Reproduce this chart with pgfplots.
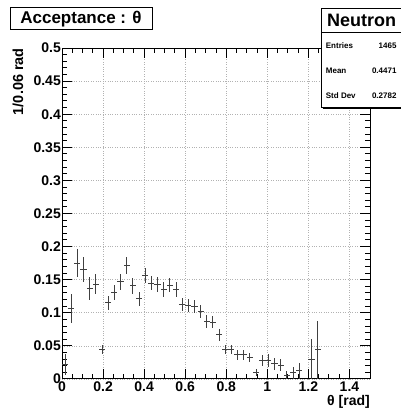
\documentclass[border=0pt]{standalone}
\usepackage{pgfplots}
\pgfplotsset{compat=1.18}
\usepackage{pgfplotstable}
\usepackage{fontspec}
\setmainfont{Liberation Sans}

% theta acceptance for neutrons, bins of 0.03 rad
\pgfplotstableread{
x      y       ey
0.015  0.022   0.016
0.045  0.107   0.022
0.075  0.175   0.021
0.105  0.165   0.019
0.135  0.137   0.017
0.165  0.143   0.015
0.195  0.045   0.007
0.225  0.115   0.011
0.255  0.131   0.011
0.285  0.147   0.012
0.315  0.172   0.013
0.345  0.141   0.012
0.375  0.121   0.011
0.405  0.156   0.011
0.435  0.145   0.011
0.465  0.143   0.011
0.495  0.135   0.011
0.525  0.142   0.011
0.555  0.135   0.011
0.585  0.112   0.010
0.615  0.111   0.010
0.645  0.109   0.010
0.675  0.1015  0.010
0.705  0.087   0.010
0.735  0.086   0.009
0.765  0.067   0.009
0.795  0.045   0.007
0.825  0.045   0.007
0.855  0.0365  0.0075
0.885  0.0365  0.0075
0.915  0.033   0.007
0.945  0.0096  0.005
0.975  0.028   0.008
1.005  0.0275  0.010
1.035  0.023   0.009
1.065  0.021   0.009
1.095  0.006   0.006
1.125  0.0096  0.009
1.155  0.0127  0.012
1.215  0.030   0.030
1.245  0.044   0.044
}\acceptance

\begin{document}
\begin{tikzpicture}
\begin{axis}[
  at={(62pt,33pt)}, anchor=south west,
  width=308pt, height=331pt, scale only axis,
  xmin=0, xmax=1.5, ymin=0, ymax=0.5,
  xtick={0,0.2,0.4,0.6,0.8,1,1.2,1.4},
  xticklabels={0,0.2,0.4,0.6,0.8,1,1.2,1.4},
  ytick={0,0.05,0.1,0.15,0.2,0.25,0.3,0.35,0.4,0.45,0.5},
  yticklabels={0,0.05,0.1,0.15,0.2,0.25,0.3,0.35,0.4,0.45,0.5},
  minor x tick num=3, minor y tick num=4,
  tick align=inside,
  major tick length=10pt, minor tick length=5pt,
  every tick/.style={black, line width=1pt},
  axis line style={black, line width=1pt},
  grid=major,
  major grid style={black!30, dotted, line width=0.6pt},
  ticklabel style={font=\bfseries\fontsize{14}{14}\selectfont},
  yticklabel style={inner sep=1pt},
  xticklabel style={inner sep=1pt, yshift=-2pt},
  /pgf/number format/assume math mode=true,
]
% crosses: bin width horizontally, statistical error vertically
\addplot[draw=none, mark=none,
  error bars/.cd, x dir=both, x fixed=0.015, y dir=both, y explicit,
  error mark=none,
  error bar style={draw=black!75, line width=0.9pt}]
  table[x=x, y=y, y error=ey] {\acceptance};
\end{axis}

% axis titles
\node[anchor=base east, rotate=90, inner sep=0pt,
      font=\bfseries\fontsize{14.5}{14.5}\selectfont] at (23pt,364pt) {1/0.06 rad};
\node[anchor=base east, inner sep=0pt,
      font=\bfseries\fontsize{14}{14}\selectfont] at (370pt,6pt) {θ [rad]};

% histogram title
\node[draw, line width=1pt, fill=white, minimum width=142pt, minimum height=22pt,
      inner sep=0pt, font=\bfseries\fontsize{17}{17}\selectfont] at (81pt,393pt) {Acceptance : θ};

% statistics box
\fill[white] (321.7pt,304pt) rectangle (404pt,403pt);
\draw[line width=1pt] (404pt,403pt) -- (321.7pt,403pt) -- (321.7pt,304pt) -- (404pt,304pt);
\draw[line width=1.6pt] (322.5pt,303.6pt) -- (404pt,303.6pt);
\draw[line width=0.8pt] (321.7pt,380pt) -- (404pt,380pt);
\node[font=\bfseries\fontsize{18}{18}\selectfont, inner sep=0pt] at (361.5pt,391.5pt) {Neutron};
\begin{scope}[every node/.style={font=\bfseries\fontsize{8}{8}\selectfont, inner sep=0pt}]
\node[anchor=west] at (325.7pt,366.3pt) {Entries};
\node[anchor=east] at (396.7pt,366.3pt) {1465};
\node[anchor=west] at (325.7pt,341pt) {Mean};
\node[anchor=east] at (396.7pt,341pt) {0.4471};
\node[anchor=west] at (325.7pt,316.3pt) {Std Dev};
\node[anchor=east] at (396.7pt,316.3pt) {0.2782};
\end{scope}

\pgfresetboundingbox
\path[use as bounding box] (0pt,0pt) rectangle (401pt,412pt);
\end{tikzpicture}
\end{document}
